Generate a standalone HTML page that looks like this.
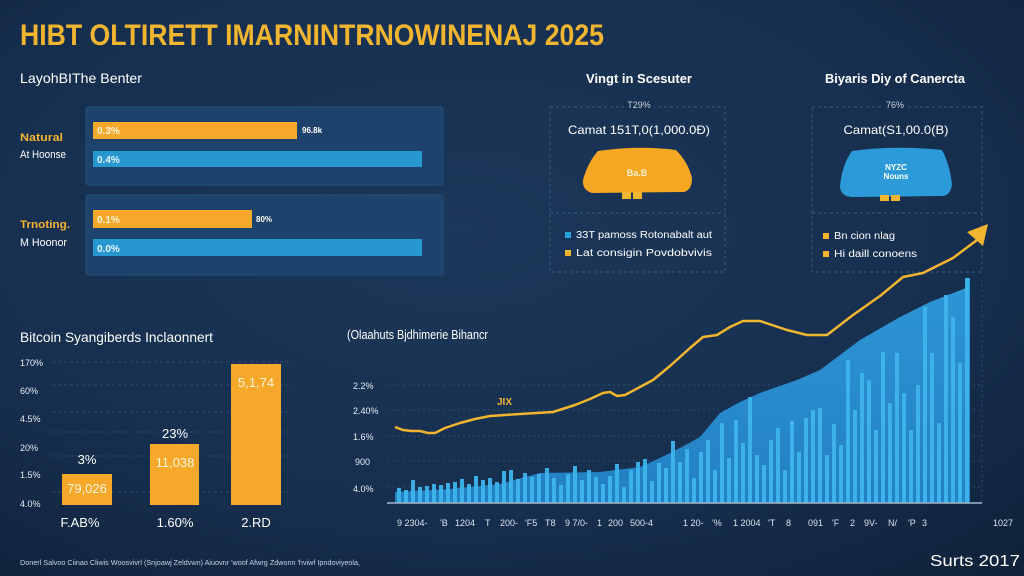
<!DOCTYPE html>
<html>
<head>
<meta charset="utf-8">
<style>
html,body{margin:0;padding:0;background:#152d4b;}
svg{display:block;}
text{font-family:"Liberation Sans",sans-serif;}
</style>
</head>
<body>
<svg width="1024" height="576" viewBox="0 0 1024 576" xmlns="http://www.w3.org/2000/svg">
<defs>
<radialGradient id="bg" cx="45%" cy="40%" r="80%">
<stop offset="0" stop-color="#1b3759"/>
<stop offset="0.6" stop-color="#172f4f"/>
<stop offset="1" stop-color="#0f223a"/>
</radialGradient>
<linearGradient id="area" x1="0" y1="0" x2="0" y2="1">
<stop offset="0" stop-color="#2d96d6"/>
<stop offset="1" stop-color="#2380c2"/>
</linearGradient>
</defs>
<rect width="1024" height="576" fill="url(#bg)"/>

<!-- Title -->
<text x="20" y="45" font-size="30" font-weight="bold" fill="#f2b530" textLength="584" lengthAdjust="spacingAndGlyphs">HIBT OLTIRETT IMARNINTRNOWINENAJ 2025</text>
<text x="20" y="83" font-size="14" fill="#ffffff" textLength="122" lengthAdjust="spacingAndGlyphs">LayohBIThe Benter</text>

<!-- Top-left panels -->
<rect x="86" y="107" width="357" height="78" rx="3" fill="#1d426b" stroke="#24507d" stroke-width="1"/>
<rect x="86" y="195" width="357" height="80" rx="3" fill="#1d426b" stroke="#24507d" stroke-width="1"/>
<rect x="93" y="122" width="204" height="17" fill="#f5a82a"/>
<rect x="93" y="151" width="329" height="16" fill="#2797d0"/>
<rect x="93" y="210" width="159" height="18" fill="#f5a82a"/>
<rect x="93" y="239" width="329" height="17" fill="#2797d0"/>
<text x="97" y="134" font-size="10" font-weight="bold" fill="#fff3d8">0.3%</text>
<text x="97" y="163" font-size="10" font-weight="bold" fill="#e8f4ff">0.4%</text>
<text x="97" y="223" font-size="10" font-weight="bold" fill="#fff3d8">0.1%</text>
<text x="97" y="252" font-size="10" font-weight="bold" fill="#e8f4ff">0.0%</text>
<text x="302" y="133" font-size="8" font-weight="bold" fill="#ffffff">96.8k</text>
<text x="256" y="222" font-size="8" font-weight="bold" fill="#ffffff">80%</text>
<text x="20" y="141" font-size="11" font-weight="bold" fill="#f2b530" textLength="43" lengthAdjust="spacingAndGlyphs">Natural</text>
<text x="20" y="158" font-size="11" fill="#ffffff" textLength="46" lengthAdjust="spacingAndGlyphs">At Hoonse</text>
<text x="20" y="228" font-size="11" font-weight="bold" fill="#f2b530" textLength="50" lengthAdjust="spacingAndGlyphs">Trnoting.</text>
<text x="20" y="246" font-size="11" fill="#ffffff" textLength="47" lengthAdjust="spacingAndGlyphs">M Hoonor</text>

<!-- Right top section 1 -->
<text x="639" y="83" font-size="13" font-weight="bold" fill="#ffffff" text-anchor="middle" textLength="106" lengthAdjust="spacingAndGlyphs">Vingt in Scesuter</text>
<rect x="550" y="107" width="175" height="165" fill="none" stroke="#3a5a7e" stroke-width="1" stroke-dasharray="3,3"/>
<line x1="550" y1="213" x2="725" y2="213" stroke="#3a5a7e" stroke-width="1" stroke-dasharray="3,3"/>
<rect x="624" y="100" width="30" height="10" fill="#172f4f"/>
<text x="639" y="108" font-size="9" fill="#c9d4e0" text-anchor="middle">T29%</text>
<text x="639" y="134" font-size="12" fill="#ffffff" text-anchor="middle" textLength="142" lengthAdjust="spacingAndGlyphs">Camat 151T,0(1,000.0Đ)</text>
<path d="M598,151 Q640,145 676,150 Q688,162 692,178 Q692,190 684,192 L592,193 Q582,190 583,180 Q588,162 598,151 Z" fill="#f5a623"/>
<rect x="622" y="192" width="9" height="7" fill="#f2b530"/>
<rect x="633" y="192" width="9" height="7" fill="#f2b530"/>
<text x="637" y="176" font-size="9" fill="#fff2cc" text-anchor="middle" font-weight="bold">Ba.B</text>
<rect x="565" y="232" width="6" height="6" fill="#2a9fd8"/>
<text x="576" y="238" font-size="10" fill="#ffffff" textLength="136" lengthAdjust="spacingAndGlyphs">33T pamoss Rotonabalt aut</text>
<rect x="565" y="250" width="6" height="6" fill="#f2b530"/>
<text x="576" y="256" font-size="10" fill="#ffffff" textLength="136" lengthAdjust="spacingAndGlyphs">Lat consigin Povdobvivis</text>

<!-- Right top section 2 -->
<text x="895" y="83" font-size="13" font-weight="bold" fill="#ffffff" text-anchor="middle" textLength="140" lengthAdjust="spacingAndGlyphs">Biyaris Diy of Canercta</text>
<rect x="812" y="107" width="170" height="165" fill="none" stroke="#3a5a7e" stroke-width="1" stroke-dasharray="3,3"/>
<line x1="812" y1="213" x2="982" y2="213" stroke="#3a5a7e" stroke-width="1" stroke-dasharray="3,3"/>
<rect x="882" y="100" width="26" height="10" fill="#172f4f"/>
<text x="895" y="108" font-size="9" fill="#c9d4e0" text-anchor="middle">76%</text>
<text x="896" y="134" font-size="12" fill="#ffffff" text-anchor="middle" textLength="105" lengthAdjust="spacingAndGlyphs">Camat(S1,00.0(B)</text>
<path d="M852,151 Q896,145 942,150 Q950,165 952,185 Q950,197 940,196 L852,197 Q840,196 840,186 Q842,165 852,151 Z" fill="#2c9ad8"/>
<rect x="880" y="195" width="9" height="6" fill="#f2b530"/>
<rect x="891" y="195" width="9" height="6" fill="#f2b530"/>
<text x="896" y="170" font-size="8" fill="#ffffff" text-anchor="middle" font-weight="bold">NYZC</text>
<text x="896" y="179" font-size="8" fill="#ffffff" text-anchor="middle" font-weight="bold">Nouns</text>
<rect x="823" y="233" width="6" height="6" fill="#f2b530"/>
<text x="834" y="239" font-size="10" fill="#ffffff" textLength="61" lengthAdjust="spacingAndGlyphs">Bn cion nlag</text>
<rect x="823" y="251" width="6" height="6" fill="#f2b530"/>
<text x="834" y="257" font-size="10" fill="#ffffff" textLength="83" lengthAdjust="spacingAndGlyphs">Hi daill conoens</text>

<!-- Bottom-left chart -->
<text x="20" y="342" font-size="14" fill="#ffffff" textLength="193" lengthAdjust="spacingAndGlyphs">Bitcoin Syangiberds Inclaonnert</text>
<g stroke="#2f4a6c" stroke-width="1" stroke-dasharray="3,3">
<line x1="52" y1="362" x2="290" y2="362"/>
<line x1="52" y1="385" x2="290" y2="385"/>
<line x1="52" y1="412" x2="290" y2="412"/>
<line x1="52" y1="432" x2="290" y2="432"/>
<line x1="52" y1="456" x2="290" y2="456"/>
<line x1="52" y1="492" x2="290" y2="492"/>
</g>
<g font-size="9" fill="#e6edf5">
<text x="20" y="366">170%</text>
<text x="20" y="394">60%</text>
<text x="20" y="422">4.5%</text>
<text x="20" y="451">20%</text>
<text x="20" y="478">1.5%</text>
<text x="20" y="507">4.0%</text>
</g>
<rect x="62" y="474" width="50" height="31" fill="#f5a82a"/>
<rect x="150" y="444" width="49" height="61" fill="#f5a82a"/>
<rect x="231" y="364" width="50" height="141" fill="#f5a82a"/>
<g font-size="13" fill="#ffffff" text-anchor="middle">
<text x="87" y="493" fill="#fff4dc">79,026</text>
<text x="175" y="467" fill="#fff4dc">11,038</text>
<text x="256" y="387" fill="#fff4dc">5,1,74</text>
<text x="87" y="464">3%</text>
<text x="175" y="438">23%</text>
<text x="80" y="527">F.AB%</text>
<text x="175" y="527">1.60%</text>
<text x="256" y="527">2.RD</text>
</g>
<text x="20" y="565" font-size="7" fill="#c7d3e0" textLength="340" lengthAdjust="spacingAndGlyphs">Donerl Salvoo Ciinao Cliwis Woosvivrl (Snjoawj Zeldvwn) Aiuovnr 'woof Afwrg Zdwonn 'hviwf Ipndoviyeola,</text>

<!-- Bottom-right chart -->
<text x="347" y="339" font-size="13" fill="#ffffff" textLength="141" lengthAdjust="spacingAndGlyphs">(Olaahuts Bjdhimerie Bihancr</text>
<g stroke="#2f4a6c" stroke-width="1" stroke-dasharray="2,3">
<line x1="388" y1="385" x2="982" y2="385"/>
<line x1="388" y1="410" x2="982" y2="410"/>
<line x1="388" y1="436" x2="982" y2="436"/>
<line x1="388" y1="461" x2="982" y2="461"/>
<line x1="388" y1="487" x2="982" y2="487"/>
<line x1="982" y1="280" x2="982" y2="503"/>
</g>
<g font-size="9" fill="#e6edf5">
<text x="353" y="389">2.2%</text>
<text x="353" y="414">2.40%</text>
<text x="353" y="440">1.6%</text>
<text x="355" y="465">900</text>
<text x="353" y="492">4.0%</text>
</g>
<path d="M395,503 L395,492 L450,489 L500,484 L540,473 L600,472 L640,467 L660,458 L680,448 L700,437 L720,413 L740,402 L760,393 L797,380 L820,370 L860,340 L900,317 L930,302 L966,288 L967,278 L970,278 L970,503 Z" fill="url(#area)"/>
<g fill="#3fb4ec" opacity="0.95">
<rect x="397" y="488" width="4" height="15"/><rect x="404" y="490" width="4" height="13"/><rect x="411" y="480" width="4" height="23"/><rect x="418" y="487" width="4" height="16"/><rect x="425" y="486" width="4" height="17"/><rect x="432" y="484" width="4" height="19"/><rect x="439" y="485" width="4" height="18"/><rect x="446" y="483" width="4" height="20"/><rect x="453" y="482" width="4" height="21"/><rect x="460" y="479" width="4" height="24"/><rect x="467" y="484" width="4" height="19"/><rect x="474" y="476" width="4" height="27"/><rect x="481" y="480" width="4" height="23"/><rect x="488" y="478" width="4" height="25"/><rect x="495" y="482" width="4" height="21"/><rect x="502" y="471" width="4" height="32"/><rect x="509" y="470" width="4" height="33"/><rect x="516" y="479" width="4" height="24"/><rect x="523" y="473" width="4" height="30"/><rect x="530" y="477" width="4" height="26"/><rect x="537" y="474" width="4" height="29"/>
<rect x="545" y="468" width="4" height="35"/><rect x="552" y="478" width="4" height="25"/><rect x="559" y="485" width="4" height="18"/><rect x="566" y="474" width="4" height="29"/><rect x="573" y="466" width="4" height="37"/><rect x="580" y="480" width="4" height="23"/><rect x="587" y="470" width="4" height="33"/><rect x="594" y="477" width="4" height="26"/><rect x="601" y="484" width="4" height="19"/><rect x="608" y="476" width="4" height="27"/><rect x="615" y="464" width="4" height="39"/><rect x="622" y="487" width="4" height="16"/><rect x="629" y="470" width="4" height="33"/><rect x="636" y="462" width="4" height="41"/><rect x="643" y="459" width="4" height="44"/><rect x="650" y="481" width="4" height="22"/><rect x="657" y="463" width="4" height="40"/><rect x="664" y="468" width="4" height="35"/><rect x="671" y="441" width="4" height="62"/><rect x="678" y="462" width="4" height="41"/><rect x="685" y="449" width="4" height="54"/><rect x="692" y="478" width="4" height="25"/><rect x="699" y="452" width="4" height="51"/>
<rect x="706" y="440" width="4" height="63"/><rect x="713" y="470" width="4" height="33"/><rect x="720" y="423" width="4" height="80"/><rect x="727" y="458" width="4" height="45"/><rect x="734" y="420" width="4" height="83"/><rect x="741" y="443" width="4" height="60"/><rect x="748" y="397" width="4" height="106"/><rect x="755" y="455" width="4" height="48"/><rect x="762" y="465" width="4" height="38"/><rect x="769" y="440" width="4" height="63"/><rect x="776" y="428" width="4" height="75"/><rect x="783" y="470" width="4" height="33"/><rect x="790" y="421" width="4" height="82"/><rect x="797" y="452" width="4" height="51"/><rect x="804" y="418" width="4" height="85"/><rect x="811" y="410" width="4" height="93"/><rect x="818" y="408" width="4" height="95"/><rect x="825" y="455" width="4" height="48"/><rect x="832" y="424" width="4" height="79"/><rect x="839" y="445" width="4" height="58"/><rect x="846" y="360" width="4" height="143"/><rect x="853" y="410" width="4" height="93"/><rect x="860" y="373" width="4" height="130"/><rect x="867" y="380" width="4" height="123"/><rect x="874" y="430" width="4" height="73"/><rect x="881" y="352" width="4" height="151"/><rect x="888" y="403" width="4" height="100"/><rect x="895" y="353" width="4" height="150"/><rect x="902" y="393" width="4" height="110"/><rect x="909" y="430" width="4" height="73"/><rect x="916" y="385" width="4" height="118"/><rect x="923" y="307" width="4" height="196"/><rect x="930" y="353" width="4" height="150"/><rect x="937" y="423" width="4" height="80"/><rect x="944" y="295" width="4" height="208"/><rect x="951" y="317" width="4" height="186"/><rect x="958" y="363" width="4" height="140"/><rect x="965" y="278" width="4" height="225"/>
</g>
<line x1="387" y1="503" x2="982" y2="503" stroke="#9fb6cc" stroke-width="1.5"/>
<path d="M395,427 L403,430 L412,431 L420,431 L428,433 L435,433 L445,428 L460,423 L475,419 L490,416 L520,414 L553,412 L575,405 L590,399 L603,393 L610,392 L617,396 L625,395 L640,387 L653,380 L670,366 L690,348 L703,337 L717,335 L730,327 L743,321 L760,321 L787,330 L807,335 L827,335 L853,315 L880,296 L903,277 L923,273 L953,258 L977,240 L982,236" fill="none" stroke="#f2b530" stroke-width="2.5" stroke-linejoin="round"/>
<polygon points="988,224 967,232 983,246" fill="#f2b530"/>
<text x="497" y="405" font-size="10" font-weight="bold" fill="#f2b530">JIX</text>
<g font-size="9" fill="#d8e2ec">
<text x="397" y="526">9 2304-</text>
<text x="440" y="526">'B</text>
<text x="455" y="526">1204</text>
<text x="485" y="526">T</text>
<text x="500" y="526">200-</text>
<text x="525" y="526">'F5</text>
<text x="545" y="526">T8</text>
<text x="565" y="526">9 7/0-</text>
<text x="597" y="526">1</text>
<text x="608" y="526">200</text>
<text x="630" y="526">500-4</text>
<text x="683" y="526">1 20-</text>
<text x="712" y="526">'%</text>
<text x="733" y="526">1 2004</text>
<text x="768" y="526">'T</text>
<text x="786" y="526">8</text>
<text x="808" y="526">091</text>
<text x="832" y="526">'F</text>
<text x="850" y="526">2</text>
<text x="864" y="526">9V-</text>
<text x="888" y="526">N/</text>
<text x="908" y="526">'P</text>
<text x="922" y="526">3</text>
<text x="993" y="526">1027</text>
</g>
<text x="930" y="566" font-size="16" fill="#ffffff" textLength="90" lengthAdjust="spacingAndGlyphs">Surts 2017</text>
</svg>
</body>
</html>
